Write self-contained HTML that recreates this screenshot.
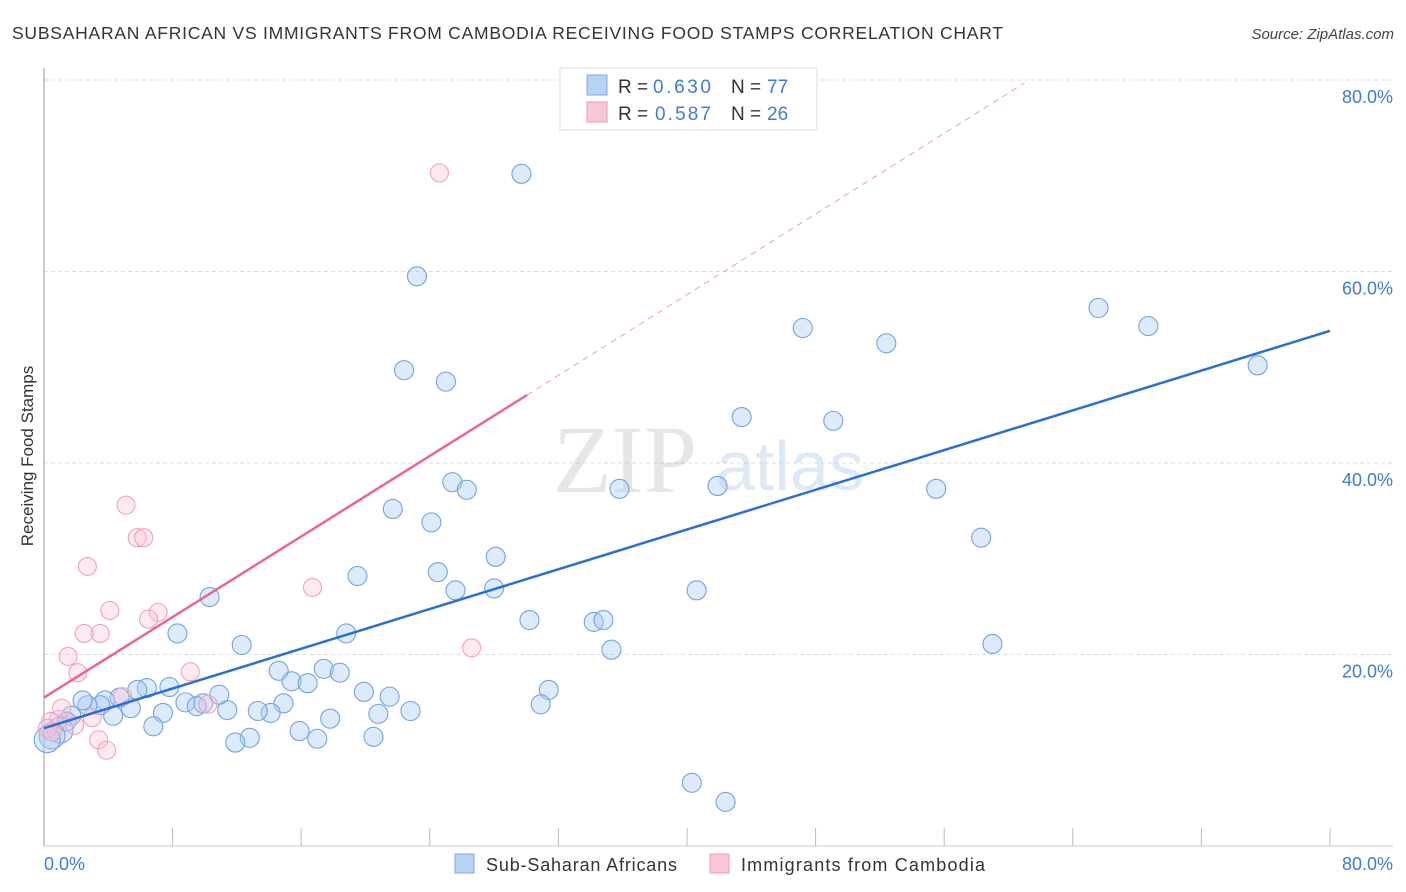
<!DOCTYPE html>
<html><head><meta charset="utf-8">
<style>
body{margin:0;background:#fff;font-family:"Liberation Sans",sans-serif;}
#wrap{position:relative;width:1406px;height:892px;overflow:hidden;}
svg{position:absolute;left:0;top:0;}
</style></head>
<body>
<div id="wrap">
<svg id="chart" width="1406" height="892">
  <text x="12" y="39" font-size="17.5" fill="#333" textLength="991" lengthAdjust="spacing">SUBSAHARAN AFRICAN VS IMMIGRANTS FROM CAMBODIA RECEIVING FOOD STAMPS CORRELATION CHART</text>
  <text x="1394" y="39" font-size="15" fill="#444" font-style="italic" text-anchor="end">Source: ZipAtlas.com</text>
  <text transform="translate(33,456) rotate(-90)" font-size="17" fill="#333" text-anchor="middle">Receiving Food Stamps</text>
  <g id="grid"></g>
  <g opacity="0.18">
    <text x="553" y="492" font-family="Liberation Serif,serif" font-size="96" fill="#777">ZIP</text>
    <text x="716" y="490" font-size="70" fill="#4a88d8">atlas</text>
  </g>
  <line x1="44" y1="68" x2="44" y2="846" stroke="#999"/>
  <line x1="44" y1="846" x2="1393" y2="846" stroke="#ccc"/>
  <g id="xticks"></g>
  <g id="points"></g>
  <g id="lines"></g>
  <text x="44" y="870" font-size="18" fill="#3d7bd9">0.0%</text>
  <text x="1393" y="870" font-size="18" fill="#3d7bd9" text-anchor="end">80.0%</text>
  <g>
    <rect x="560" y="68" width="257" height="62" fill="#fff" stroke="#ddd"/>
    <rect x="587" y="75" width="20" height="20" fill="#b8d2f4" stroke="#7ea8e6"/>
    <text x="618" y="93" font-size="19" fill="#333">R =</text>
    <text x="653" y="93" font-size="19" fill="#3d7bd9" textLength="58">0.630</text>
    <text x="731" y="93" font-size="19" fill="#333">N =</text>
    <text x="767" y="93" font-size="19" fill="#3d7bd9">77</text>
    <rect x="587" y="102" width="20" height="20" fill="#f9c8d6" stroke="#ec9ab2"/>
    <text x="618" y="120" font-size="19" fill="#333">R =</text>
    <text x="655" y="120" font-size="19" fill="#3d7bd9" textLength="56">0.587</text>
    <text x="731" y="120" font-size="19" fill="#333">N =</text>
    <text x="767" y="120" font-size="19" fill="#3d7bd9">26</text>
  </g>
  <g>
    <rect x="455" y="854" width="19" height="19" fill="#b8d2f4" stroke="#7ea8e6"/>
    <text x="486" y="871" font-size="18" fill="#333" textLength="191">Sub-Saharan Africans</text>
    <rect x="710" y="854" width="19" height="19" fill="#f9c8d6" stroke="#ec9ab2"/>
    <text x="741" y="871" font-size="18" fill="#333" textLength="244">Immigrants from Cambodia</text>
  </g>
</svg>
</div>
<script>
const yTicks=[20,40,60,80];
const yTickLabels=["20.0%","40.0%","60.0%","80.0%"];
const xTicks=[8,16,24,32,40,48,56,64,72,80];
const blueX=[29.7,23.2,22.4,25.0,43.4,49.1,47.2,52.4,65.6,68.7,75.5,25.4,26.3,35.8,41.9,55.5,21.7,24.1,58.3,28.1,19.5,24.5,25.6,28.0,40.6,10.3,30.2,34.2,34.8,35.3,8.3,18.8,12.3,59.0,14.6,15.4,16.4,17.4,18.4,19.9,21.5,31.4,30.9,22.8,20.8,17.8,15.9,17.0,20.5,12.8,11.9,14.9,14.1,13.3,11.4,10.9,9.9,8.8,9.5,7.8,6.4,5.8,7.4,6.8,5.4,4.7,4.3,3.8,3.5,2.7,2.4,1.7,1.4,1.0,0.5,0.2,40.3,42.4];
const blueY=[70.2,59.5,49.7,48.5,44.8,44.4,54.1,52.5,56.2,54.3,50.2,38.0,37.2,37.3,37.6,37.3,35.2,33.8,32.2,30.2,28.2,28.6,26.7,26.9,26.7,26.0,23.6,23.4,23.6,20.5,22.2,22.2,21.0,21.1,18.3,17.2,17.0,18.5,18.1,16.1,15.6,16.3,14.8,14.1,13.8,13.3,12.0,11.2,11.4,11.3,10.8,14.9,13.9,14.1,14.2,15.8,14.9,15.0,14.6,16.6,16.5,16.3,13.9,12.5,14.4,15.5,13.6,15.2,14.7,14.7,15.2,13.6,13.0,12.1,11.5,11.1,6.6,4.6];
const pinkX=[24.6,5.1,5.8,6.2,2.7,4.1,7.1,6.5,2.5,3.5,16.7,1.5,2.1,9.1,26.6,4.9,3.0,1.9,0.9,0.4,0.2,3.4,3.9,10.2,1.1,0.5];
const pinkY=[70.3,35.6,32.2,32.2,29.2,24.6,24.4,23.7,22.2,22.2,27.0,19.8,18.1,18.2,20.7,15.6,13.4,12.6,13.2,13.0,12.3,11.1,10.0,14.8,14.4,11.9];
const blueTrend=[[0,12.3],[80,53.8]];
const pinkTrend=[[0,15.5],[30.05,47.1]];
const pinkTrendDash=[[30.05,47.1],[61,79.7]];

const NS="http://www.w3.org/2000/svg";
const sx=v=>44+v*(1286/80);
const sy=v=>846-v*(766/80);
function mk(tag,attrs,parent){const e=document.createElementNS(NS,tag);for(const k in attrs)e.setAttribute(k,attrs[k]);parent.appendChild(e);return e;}
const grid=document.getElementById('grid');
yTicks.forEach((t,i)=>{
  const l=mk('line',{x1:44,x2:1393,y1:sy(t),y2:sy(t),stroke:'#ddd','stroke-dasharray':'4,3'},grid);
  
  
  const tx=mk('text',{x:1393,y:sy(t)+23,'font-size':18,fill:'#3d7bd9','text-anchor':'end'},grid);
  tx.textContent=yTickLabels[i];
  
  
});
const xt=document.getElementById('xticks');
xTicks.forEach(t=>{
  const l=mk('line',{x1:sx(t),x2:sx(t),y1:828,y2:846,stroke:'#bbb'},xt);
  
  
});
const pts=document.getElementById('points');
blueX.forEach((x,i)=>{
  const r=(x<1.2&&blueY[i]<12.5)?13:9.5;
  const c=mk('circle',{cx:sx(x),cy:sy(blueY[i]),r:r,fill:'rgba(170,202,242,0.4)',stroke:'#72a3e2','stroke-width':1.1},pts);
  
  
});
pinkX.forEach((x,i)=>{
  const c=mk('circle',{cx:sx(x),cy:sy(pinkY[i]),r:9,fill:'rgba(248,196,212,0.35)',stroke:'#efa2b9','stroke-width':1.1},pts);
  
  
});
const lines=document.getElementById('lines');
const bl=mk('line',{x1:sx(blueTrend[0][0]),y1:sy(blueTrend[0][1]),x2:sx(blueTrend[1][0]),y2:sy(blueTrend[1][1]),stroke:'#2a6fd6','stroke-width':2.5},lines);


const pl=mk('line',{x1:sx(pinkTrend[0][0]),y1:sy(pinkTrend[0][1]),x2:sx(pinkTrend[1][0]),y2:sy(pinkTrend[1][1]),stroke:'#e8668f','stroke-width':2.5},lines);


const pd=mk('line',{x1:sx(pinkTrendDash[0][0]),y1:sy(pinkTrendDash[0][1]),x2:sx(pinkTrendDash[1][0]),y2:sy(pinkTrendDash[1][1]),stroke:'#eaa0b8','stroke-width':1,'stroke-dasharray':'6,5'},lines);


</script>
</body></html>
